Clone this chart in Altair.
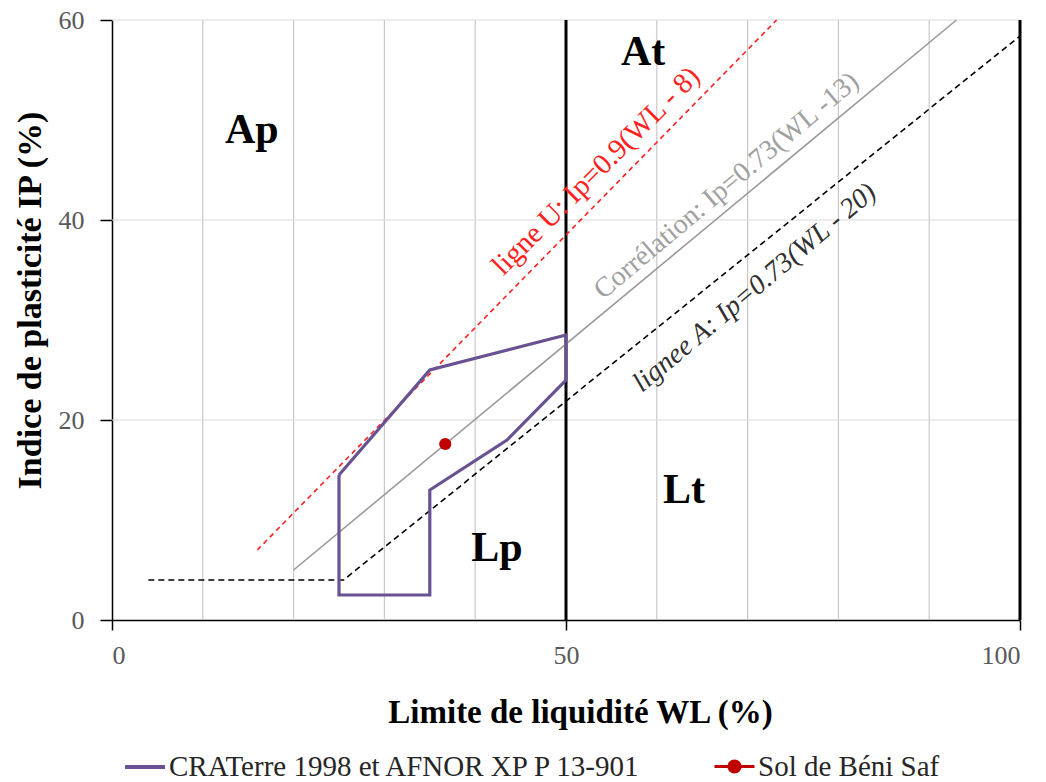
import altair as alt
import pandas as pd

# ---- data ----
craterre_wl = [25, 35, 50, 50, 43.5, 35, 35, 25, 25]
craterre_ip = [14.5, 25, 28.5, 24, 18, 13, 2.5, 2.5, 14.5]

sol_wl = [36.7]
sol_ip = [17.6]

ligne_u_wl = [16, 73.2]
ligne_u_ip = [7, 60]

corr_wl = [20, 93]
corr_ip = [5, 60]

ligne_a_wl = [4, 25.5, 100]
ligne_a_ip = [4, 4, 58.4]

x_grid = [10, 20, 30, 40, 60, 70, 80, 90]
y_grid = [20, 40, 60]
x_bold = [50, 100]

x_ticks = [0, 50, 100]
y_ticks = [0, 20, 40, 60]

zone_text = ["Ap", "At", "Lp", "Lt"]
zone_wl = [15.4, 58.5, 42.4, 63]
zone_ip = [49, 56.8, 7.2, 13]

u_label = "ligne U:    Ip=0.9(WL - 8)"
u_label_pos = (53.3, 44.9)
corr_label = "Corrélation: Ip=0.73(WL -13)"
corr_label_pos = (67.7, 43.4)
a_label = "lignee A: Ip=0.73(WL - 20)"
a_label_pos = (70.8, 33.2)

name_cr = "CRATerre 1998 et AFNOR XP P 13-901"
name_sol = "Sol de Béni Saf"

FONT = "Liberation Serif"
PURPLE = "#685292"
DARKRED = "#C00000"

xs = alt.Scale(domain=[0, 100], nice=False, zero=False)
ys = alt.Scale(domain=[0, 60], nice=False, zero=False)

x_axis = alt.Axis(values=x_ticks, grid=False, title="Limite de liquidité WL (%)",
                  labelFont=FONT, labelFontSize=26, labelColor="#595959", labelPadding=12,
                  domainColor="black", domainWidth=1.5, tickColor="black", tickWidth=1.5, tickSize=10,
                  titleFont=FONT, titleFontSize=33, titleFontWeight="bold", titleColor="black",
                  titleX=468, titleY=92, titleBaseline="middle")
y_axis = alt.Axis(values=y_ticks, grid=False, title="Indice de plasticité IP (%)",
                  labelFont=FONT, labelFontSize=26, labelColor="#595959", labelPadding=16,
                  domainColor="black", domainWidth=1.5, tickColor="black", tickWidth=1.5, tickSize=12,
                  titleFont=FONT, titleFontSize=34, titleFontWeight="bold", titleColor="black",
                  titleX=-82, titleY=280, titleAngle=270, titleBaseline="middle", titleAlign="center")

# grid
gx = alt.Chart(pd.DataFrame({"wl": x_grid})).mark_rule(color="#C8C8C8", strokeWidth=1.2).encode(
    x=alt.X("wl:Q", scale=xs, axis=x_axis))
gy = alt.Chart(pd.DataFrame({"ip": y_grid})).mark_rule(color="#D9D9D9", strokeWidth=1.2).encode(
    y=alt.Y("ip:Q", scale=ys, axis=y_axis))
gb = alt.Chart(pd.DataFrame({"wl": x_bold})).mark_rule(color="black", strokeWidth=3).encode(
    x=alt.X("wl:Q", scale=xs))

def line_df(wl, ip):
    return pd.DataFrame({"wl": wl, "ip": ip, "o": list(range(len(wl)))})

u_line = alt.Chart(line_df(ligne_u_wl, ligne_u_ip)).mark_line(
    color="#FF2020", strokeWidth=1.6, strokeDash=[5, 4]).encode(
    x=alt.X("wl:Q", scale=xs), y=alt.Y("ip:Q", scale=ys), order="o:Q")
c_line = alt.Chart(line_df(corr_wl, corr_ip)).mark_line(
    color="#9A9A9A", strokeWidth=1.6).encode(
    x=alt.X("wl:Q", scale=xs), y=alt.Y("ip:Q", scale=ys), order="o:Q")
a_line = alt.Chart(line_df(ligne_a_wl, ligne_a_ip)).mark_line(
    color="black", strokeWidth=1.6, strokeDash=[6, 4]).encode(
    x=alt.X("wl:Q", scale=xs), y=alt.Y("ip:Q", scale=ys), order="o:Q")

cr_df = line_df(craterre_wl, craterre_ip)
cr_df["serie"] = name_cr
cr_line = alt.Chart(cr_df).mark_line(strokeWidth=3.2).encode(
    x=alt.X("wl:Q", scale=xs), y=alt.Y("ip:Q", scale=ys), order="o:Q",
    stroke=alt.Stroke("serie:N", scale=alt.Scale(domain=[name_cr], range=[PURPLE]),
                      legend=alt.Legend(title=None, orient="none", legendX=11, legendY=725,
                                        symbolType="stroke", symbolSize=1600, symbolStrokeWidth=4,
                                        labelFont=FONT, labelFontSize=29, labelColor="#262626",
                                        labelLimit=800, padding=0, labelOffset=2)))

sol_df = pd.DataFrame({"wl": sol_wl, "ip": sol_ip, "serie": [name_sol]})
sol_pt = alt.Chart(sol_df).mark_circle(size=150, opacity=1).encode(
    x=alt.X("wl:Q", scale=xs), y=alt.Y("ip:Q", scale=ys),
    fill=alt.Fill("serie:N", scale=alt.Scale(domain=[name_sol], range=[DARKRED]),
                  legend=alt.Legend(title=None, orient="none", legendX=601, legendY=725,
                                    symbolType="M-1,0L1,0M0.28,0A0.28,0.28 0 1 1 -0.28,0A0.28,0.28 0 1 1 0.28,0",
                                    symbolSize=1600, symbolStrokeColor=DARKRED, symbolStrokeWidth=3,
                                    labelFont=FONT, labelFontSize=29, labelColor="#262626",
                                    labelLimit=800, padding=0, labelOffset=2)))

zones = alt.Chart(pd.DataFrame({"wl": zone_wl, "ip": zone_ip, "t": zone_text})).mark_text(
    font=FONT, fontSize=42, fontWeight="bold", color="black", align="center", baseline="middle").encode(
    x=alt.X("wl:Q", scale=xs), y=alt.Y("ip:Q", scale=ys), text="t:N")

def label(txt, pos, color, angle, size, style="normal"):
    return alt.Chart(pd.DataFrame({"wl": [pos[0]], "ip": [pos[1]], "t": [txt]})).mark_text(
        font=FONT, fontSize=size, color=color, angle=angle, fontStyle=style,
        align="center", baseline="middle").encode(
        x=alt.X("wl:Q", scale=xs), y=alt.Y("ip:Q", scale=ys), text="t:N")

lu = label(u_label, u_label_pos, "#FF2020", 315, 29)
lc = label(corr_label, corr_label_pos, "#A0A0A0", 320, 28)
la = label(a_label, a_label_pos, "#303030", 320, 28, "italic")

chart = alt.layer(gx, gy, gb, u_line, c_line, a_line, cr_line, sol_pt, zones, lu, lc, la).resolve_legend(
    stroke="independent", fill="independent").properties(
    width=908, height=600,
    autosize=alt.AutoSizeParams(type="none"),
    padding={"left": 112, "top": 20, "right": 26, "bottom": 162},
    background="white").configure_view(stroke=None)

chart.save("out.html", embed_options={"renderer": "svg", "actions": False})
